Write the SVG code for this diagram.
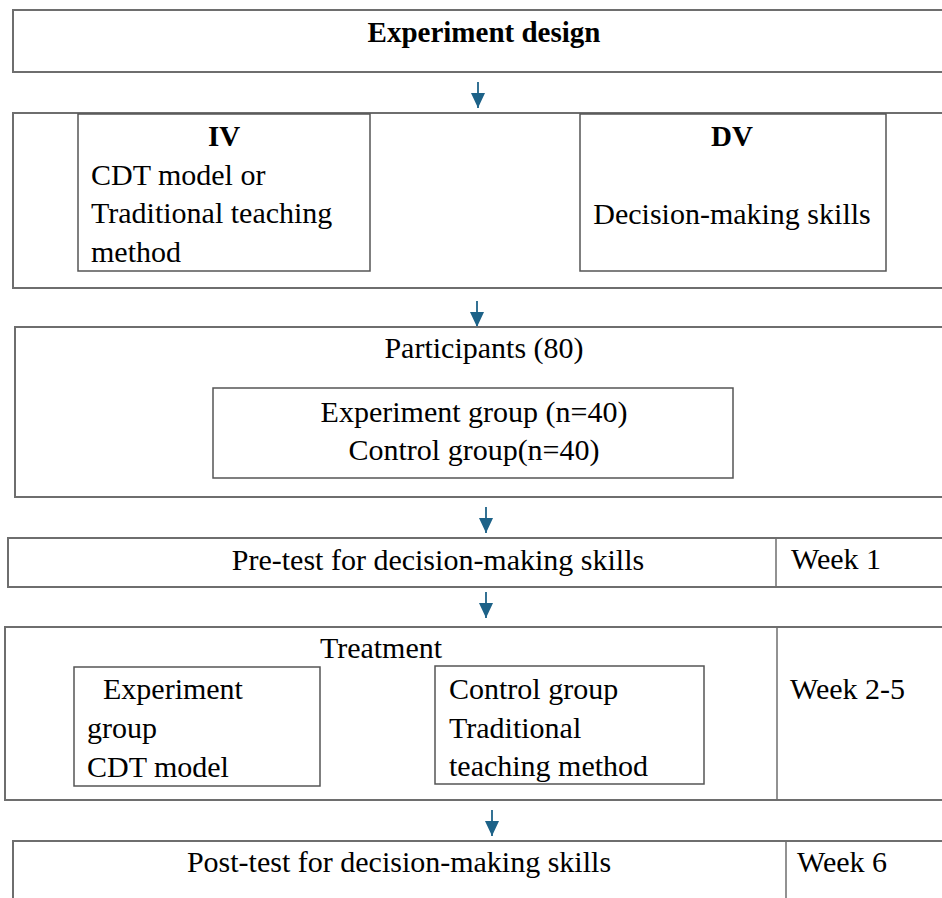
<svg xmlns="http://www.w3.org/2000/svg" width="942" height="898" viewBox="0 0 942 898">
<style>
.ob{fill:#fff;stroke:#6e6e6e;stroke-width:2}
.ib{fill:#fff;stroke:#555;stroke-width:1.5}
.dv{stroke:#6e6e6e;stroke-width:1.5}
.t{font-family:'Liberation Serif',serif;font-size:30px;fill:#000}
.b{font-weight:bold;font-size:29px}
.c{text-anchor:middle}
.arr{stroke:#1d6288;stroke-width:1.8;fill:none}
</style>
<defs>
<marker id="ah" markerWidth="15" markerHeight="14" refX="15" refY="7" orient="auto" markerUnits="userSpaceOnUse" viewBox="0 0 15 14">
<path d="M0,0 L15,7 L0,14 Z" fill="#1d6288"/>
</marker>
</defs>
<g id="connectors">
<line class="arr" x1="478" y1="82" x2="478" y2="108" marker-end="url(#ah)"/>
<line class="arr" x1="477" y1="301" x2="477" y2="327" marker-end="url(#ah)"/>
<line class="arr" x1="486" y1="507" x2="486" y2="533" marker-end="url(#ah)"/>
<line class="arr" x1="486" y1="592" x2="486" y2="618" marker-end="url(#ah)"/>
<line class="arr" x1="492" y1="810" x2="492" y2="836" marker-end="url(#ah)"/>
</g>
<g class="t" font-family="Liberation Serif, serif">
<g id="design">
<rect class="ob" x="13" y="10" width="940" height="62"/>
<text class="b c" x="484" y="42">Experiment design</text>
</g>
<g id="variables">
<rect class="ob" x="13" y="113" width="940" height="175"/>
</g>
<g id="iv">
<rect class="ib" x="78" y="114" width="292" height="157"/>
<text class="b c" x="224" y="146">IV</text>
<text x="91" y="185">CDT model or</text>
<text x="91" y="223">Traditional teaching</text>
<text x="91" y="262">method</text>
</g>
<g id="dv">
<rect class="ib" x="580" y="114" width="306" height="157"/>
<text class="b c" x="732" y="146">DV</text>
<text class="c" x="732" y="224">Decision-making skills</text>
</g>
<g id="participants">
<rect class="ob" x="15" y="327" width="940" height="170"/>
<text class="c" x="484" y="358">Participants (80)</text>
</g>
<g id="groups">
<rect class="ib" x="213" y="388" width="520" height="90"/>
<text class="c" x="474" y="422">Experiment group (n=40)</text>
<text class="c" x="474" y="460">Control group(n=40)</text>
</g>
<g id="pretest">
<rect class="ob" x="8" y="538" width="945" height="49"/>
<line class="dv" x1="776" y1="538" x2="776" y2="587"/>
<text class="c" x="438" y="570">Pre-test for decision-making skills</text>
<text x="791" y="569">Week 1</text>
</g>
<g id="treatment">
<rect class="ob" x="5" y="627" width="950" height="173"/>
<line class="dv" x1="777" y1="627" x2="777" y2="800"/>
<text class="c" x="381" y="658">Treatment</text>
<text x="790" y="699">Week 2-5</text>
</g>
<g id="exp-group">
<rect class="ib" x="74" y="667" width="246" height="119"/>
<text x="103" y="699">Experiment</text>
<text x="87" y="738">group</text>
<text x="87" y="777">CDT model</text>
</g>
<g id="ctrl-group">
<rect class="ib" x="435" y="666" width="269" height="118"/>
<text x="449" y="699">Control group</text>
<text x="449" y="738">Traditional</text>
<text x="449" y="776">teaching method</text>
</g>
<g id="posttest">
<rect class="ob" x="13" y="841" width="940" height="70"/>
<line class="dv" x1="786" y1="841" x2="786" y2="898"/>
<text class="c" x="399" y="872">Post-test for decision-making skills</text>
<text x="797" y="872">Week 6</text>
</g>
</g>
</svg>
